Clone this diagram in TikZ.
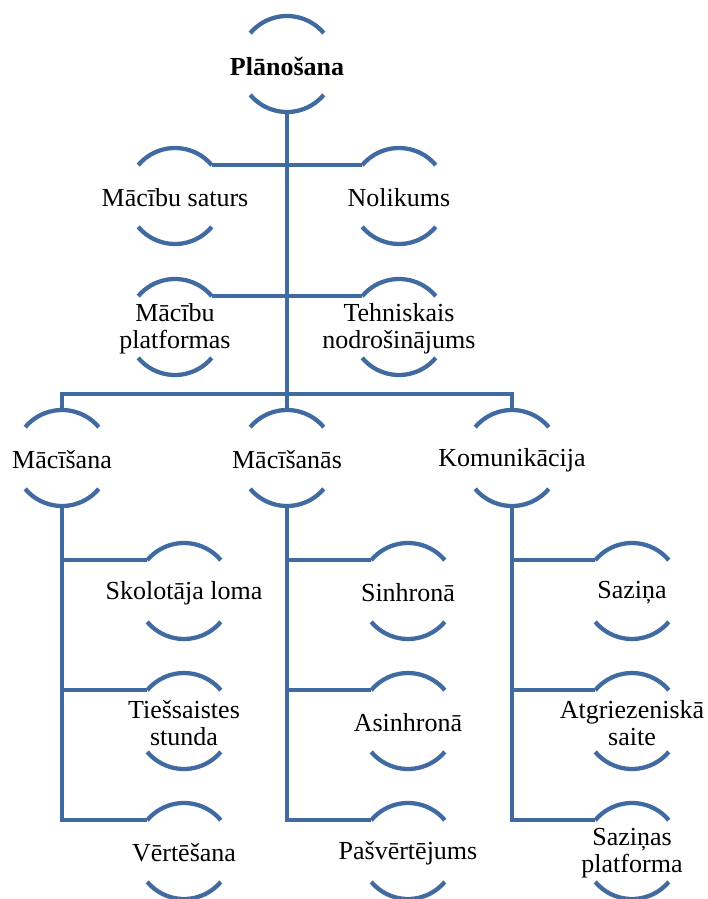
\documentclass[tikz,border=0pt]{standalone}
\usepackage{fontspec}
\setmainfont{Liberation Serif}
\definecolor{ringblue}{RGB}{64,106,160}

\tikzset{
ring/.style={circle,minimum size=72pt,inner sep=0pt,outer sep=0pt},
txt/.style={align=center,font=\fontsize{19.5pt}{20.5pt}\selectfont,inner sep=0pt,yshift=-1.5pt},
ringline/.style={draw=ringblue,line width=3.2pt},
link/.style={draw=ringblue,line width=3.4pt}
}

\begin{document}
\begin{tikzpicture}[x=0.75pt,y=-0.75pt]
\useasboundingbox (0,0) rectangle (707,899);

% the top node and the two rows hanging on the trunk
\node[ring,label={[txt,font=\fontsize{19.5pt}{20.5pt}\selectfont\bfseries]center:Plānošana}] (plan) at (287,64) {};
\node[ring,label={[txt]center:Mācību saturs}] (saturs) at (175,196) {};
\node[ring,label={[txt]center:Nolikums}] (nolik) at (399,196) {};
\node[ring,label={[txt]center:Mācību\\platformas}] (platf) at (175,327) {};
\node[ring,label={[txt]center:Tehniskais\\nodrošinājums}] (tehn) at (399,327) {};

% the three branches
\node[ring,label={[txt]center:Mācīšana}] (maci) at (62,458) {};
\node[ring,label={[txt]center:Mācīšanās}] (macis) at (287,458) {};
\node[ring,label={[txt]center:Komunikācija}] (komun) at (512,458) {};

% the nodes below each branch
\node[ring,label={[txt]center:Skolotāja loma}] (maci1) at (184,591) {};
\node[ring,label={[txt]center:Tiešsaistes\\stunda}] (maci2) at (184,721) {};
\node[ring,label={[txt]center:Vērtēšana}] (maci3) at (184,851) {};

\node[ring,label={[txt]center:Sinhronā}] (macis1) at (408,591) {};
\node[ring,label={[txt]center:Asinhronā}] (macis2) at (408,721) {};
\node[ring,label={[txt]center:Pašvērtējums}] (macis3) at (408,851) {};

\node[ring,label={[txt]center:Saziņa}] (komun1) at (632,591) {};
\node[ring,label={[txt]center:Atgriezeniskā\\saite}] (komun2) at (632,721) {};
\node[ring,label={[txt]center:Saziņas\\platforma}] (komun3) at (632,851) {};

% upper and lower arc of every ring
\foreach \n in {plan,saturs,nolik,platf,tehn,maci,macis,komun,
  maci1,maci2,maci3,macis1,macis2,macis3,komun1,komun2,komun3}
{
  \draw[ringline] (\n.40) arc[start angle=40,end angle=140,radius=36pt];
  \draw[ringline] (\n.220) arc[start angle=220,end angle=320,radius=36pt];
}

% trunk and the cross bars
\coordinate (bar) at (287,394);
\draw[link] (plan.south) -- (macis.north);
\draw[link] (saturs.40) -- (nolik.140);
\draw[link] (platf.40) -- (tehn.140);
\draw[link] (maci.north) |- (bar) -| (komun.north);

% lines from each branch to its nodes
\foreach \b in {maci,macis,komun}
  \foreach \value in {1,...,3}
    \draw[link] (\b.south) |- (\b\value.140);
\end{tikzpicture}
\end{document}
